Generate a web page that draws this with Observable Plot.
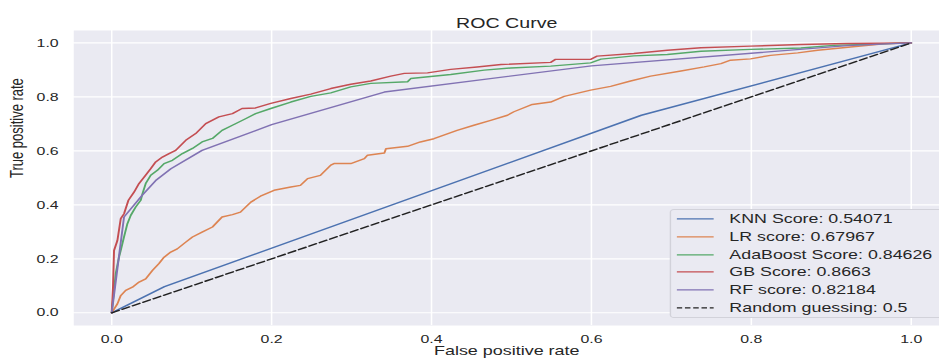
<!DOCTYPE html>
<html><head><meta charset="utf-8">
<script src="https://cdn.jsdelivr.net/npm/d3@7"></script>
<script src="https://cdn.jsdelivr.net/npm/@observablehq/plot@0.6"></script>
<style>
html,body{margin:0;padding:0;background:#fff;overflow:hidden}
#outer{width:939px;height:363px;overflow:hidden;position:relative;background:#fff}
#wrap{position:absolute;left:0;top:0;width:680px;height:363px;transform-origin:0 0;transform:scaleX(1.3809);font-family:"Liberation Sans",Arial,sans-serif;color:#262626}
#legend{position:absolute;left:485.2px;top:209px;width:260px;height:106.8px;background:#EAEAF2;border:1px solid #d2d2da;border-radius:3px;box-sizing:content-box}
.row{height:17.8px;line-height:17.8px;position:relative;font-size:12.9px;white-space:nowrap}
.row svg{position:absolute;left:4.3px;top:0}
.row span{position:absolute;left:42px;top:0}
</style></head>
<body>
<div id="outer"><div id="wrap"><div id="chart"></div><div id="legend"></div></div></div>
<script>
const title = "ROC Curve";
const xLabel = "False positive rate";
const yLabel = "True positive rate";
const tickValues = [0, 0.2, 0.4, 0.6, 0.8, 1.0];

const models = ["KNN Score: 0.54071", "LR score: 0.67967", "AdaBoost Score: 0.84626", "GB Score: 0.8663", "RF score: 0.82184"];
const randomLabel = "Random guessing: 0.5";
const colors = ["#4C72B0", "#DD8452", "#55A868", "#C44E52", "#8172B3"];

const knnFpr = [0, 0.066, 0.6625, 1];
const knnTpr = [0, 0.097, 0.732, 1];

const lrFpr = [0, 0.0071, 0.0113, 0.0175, 0.0259, 0.0342, 0.0425, 0.051, 0.059, 0.0655, 0.0738, 0.082, 0.0926, 0.101, 0.113, 0.126, 0.138, 0.151, 0.161, 0.174, 0.186, 0.203, 0.224, 0.236, 0.245, 0.261, 0.274, 0.278, 0.299, 0.316, 0.320, 0.341, 0.343, 0.370, 0.386, 0.403, 0.432, 0.453, 0.474, 0.495, 0.503, 0.526, 0.549, 0.566, 0.599, 0.624, 0.649, 0.674, 0.712, 0.741, 0.762, 0.774, 0.799, 0.824, 0.858, 0.883, 0.924, 0.966, 1];
const lrTpr = [0, 0.033, 0.064, 0.083, 0.095, 0.114, 0.126, 0.157, 0.182, 0.206, 0.225, 0.237, 0.262, 0.281, 0.299, 0.318, 0.355, 0.364, 0.373, 0.410, 0.432, 0.454, 0.466, 0.472, 0.497, 0.509, 0.547, 0.553, 0.553, 0.571, 0.584, 0.592, 0.608, 0.617, 0.633, 0.645, 0.676, 0.695, 0.713, 0.732, 0.745, 0.772, 0.781, 0.802, 0.825, 0.839, 0.859, 0.877, 0.896, 0.911, 0.923, 0.936, 0.941, 0.954, 0.963, 0.973, 0.985, 0.997, 1];

const adaFpr = [0, 0.005, 0.0091, 0.0113, 0.0154, 0.0196, 0.0238, 0.030, 0.0363, 0.0384, 0.0425, 0.0488, 0.0571, 0.0655, 0.0759, 0.0884, 0.101, 0.113, 0.126, 0.138, 0.151, 0.168, 0.180, 0.199, 0.224, 0.249, 0.274, 0.299, 0.324, 0.370, 0.374, 0.424, 0.466, 0.499, 0.549, 0.599, 0.612, 0.653, 0.695, 0.737, 0.799, 0.862, 0.903, 1];
const adaTpr = [0, 0.145, 0.206, 0.231, 0.281, 0.330, 0.361, 0.392, 0.417, 0.441, 0.479, 0.510, 0.528, 0.553, 0.565, 0.590, 0.609, 0.633, 0.646, 0.676, 0.695, 0.720, 0.738, 0.757, 0.781, 0.802, 0.815, 0.837, 0.850, 0.856, 0.868, 0.883, 0.899, 0.907, 0.914, 0.926, 0.940, 0.952, 0.957, 0.969, 0.976, 0.981, 0.991, 1];

const gbFpr = [0, 0.0016, 0.0029, 0.0071, 0.0113, 0.0154, 0.0209, 0.0279, 0.0341, 0.0425, 0.0488, 0.055, 0.0634, 0.0717, 0.080, 0.0926, 0.105, 0.1176, 0.134, 0.151, 0.163, 0.180, 0.199, 0.224, 0.249, 0.274, 0.299, 0.324, 0.349, 0.366, 0.395, 0.424, 0.457, 0.487, 0.549, 0.555, 0.599, 0.607, 0.653, 0.695, 0.737, 0.799, 0.862, 0.92, 1];
const gbTpr = [0, 0.095, 0.231, 0.268, 0.349, 0.367, 0.417, 0.447, 0.479, 0.510, 0.534, 0.559, 0.577, 0.590, 0.602, 0.639, 0.664, 0.701, 0.726, 0.738, 0.757, 0.759, 0.776, 0.794, 0.810, 0.831, 0.847, 0.859, 0.877, 0.887, 0.889, 0.902, 0.911, 0.920, 0.928, 0.939, 0.939, 0.951, 0.961, 0.973, 0.982, 0.988, 0.994, 0.998, 1];

const rfFpr = [0, 0.0154, 0.038, 0.055, 0.074, 0.113, 0.20, 0.341, 0.6, 0.92, 1];
const rfTpr = [0, 0.355, 0.435, 0.49, 0.534, 0.602, 0.697, 0.818, 0.915, 0.99, 1];

const randFpr = [0, 1];
const randTpr = [0, 1];

const series = [[knnFpr, knnTpr], [lrFpr, lrTpr], [adaFpr, adaTpr], [gbFpr, gbTpr], [rfFpr, rfTpr]];
const rows = [];
series.forEach(([f, t], i) => f.forEach((v, j) => rows.push({model: models[i], fpr: v, tpr: t[j]})));
const randRows = randFpr.map((v, j) => ({fpr: v, tpr: randTpr[j]}));

const font = '"Liberation Sans", Arial, sans-serif';
const fmt = d3.format(".1f");

const chart = Plot.plot({
  width: 680,
  height: 363,
  marginLeft: 52.9,
  marginRight: 0,
  marginTop: 30,
  marginBottom: 38,
  style: {fontFamily: font, fontSize: "11.5px", color: "#262626", background: "transparent"},
  x: {domain: [-0.0475, 1.0356]},
  y: {domain: [-0.047, 1.046]},
  color: {domain: models, range: colors},
  marks: [
    Plot.frame({fill: "#EAEAF2", stroke: null}),
    Plot.gridX(tickValues, {stroke: "#ffffff", strokeOpacity: 1, strokeWidth: 1.1}),
    Plot.gridY(tickValues, {stroke: "#ffffff", strokeOpacity: 1, strokeWidth: 1.1}),
    Plot.axisX(tickValues, {tickSize: 0, tickPadding: 9, tickFormat: fmt, label: null, fontSize: 11.5, fill: "#262626"}),
    Plot.axisY(tickValues, {tickSize: 0, tickPadding: 10.9, tickFormat: fmt, label: null, fontSize: 11.5, fill: "#262626"}),
    Plot.line(rows, {x: "fpr", y: "tpr", z: "model", stroke: "model", strokeWidth: 1.4}),
    Plot.line(randRows, {x: "fpr", y: "tpr", stroke: "#222222", strokeWidth: 1.4, strokeDasharray: "5.8,2.5"}),
    Plot.text([title], {frameAnchor: "top", dy: -13, fontSize: 14.2, fill: "#262626"}),
    Plot.text([xLabel], {frameAnchor: "bottom", dy: 29, fontSize: 13, fill: "#262626"}),
    Plot.text([yLabel], {frameAnchor: "left", dx: -41, rotate: -90, fontSize: 13, fill: "#262626"})
  ]
});
document.getElementById("chart").appendChild(chart);

const legend = document.getElementById("legend");
const entries = models.map((m, i) => ({label: m, color: colors[i], dash: null}))
  .concat([{label: randomLabel, color: "#222222", dash: "4,2"}]);
entries.forEach(e => {
  const row = document.createElement("div");
  row.className = "row";
  const ns = "http://www.w3.org/2000/svg";
  const svg = document.createElementNS(ns, "svg");
  svg.setAttribute("width", "28");
  svg.setAttribute("height", "17.8");
  const ln = document.createElementNS(ns, "line");
  ln.setAttribute("x1", "0"); ln.setAttribute("x2", "26.8");
  ln.setAttribute("y1", "8.9"); ln.setAttribute("y2", "8.9");
  ln.setAttribute("stroke", e.color);
  ln.setAttribute("stroke-width", "1.4");
  if (e.dash) ln.setAttribute("stroke-dasharray", e.dash);
  svg.appendChild(ln);
  const span = document.createElement("span");
  span.textContent = e.label;
  row.appendChild(svg);
  row.appendChild(span);
  legend.appendChild(row);
});
</script>
</body></html>
